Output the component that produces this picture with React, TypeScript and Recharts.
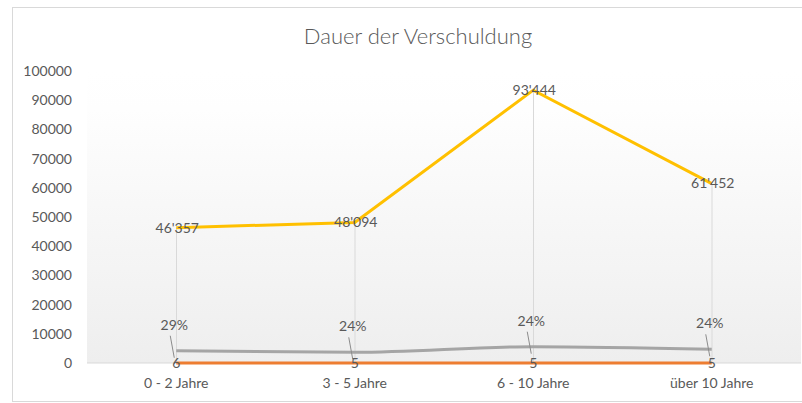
import { ComposedChart, Line, Bar, XAxis, YAxis, CartesianGrid } from 'recharts';

const categories = ['0 - 2 Jahre', '3 - 5 Jahre', '6 - 10 Jahre', 'über 10 Jahre'];
const betrag = [46357, 48094, 93444, 61452];
const anteilWert = [4200, 3660, 5580, 4690];
const anteilLabels = ['29%', '24%', '24%', '24%'];
const anzahl = [6, 5, 5, 5];
const yTicks = [0, 10000, 20000, 30000, 40000, 50000, 60000, 70000, 80000, 90000, 100000];

const data = categories.map((name, i) => ({
  name,
  betrag: betrag[i],
  anteil: anteilWert[i],
  anzahl: anzahl[i],
}));

const textColor = '#595959';
const font = 'Lato, "Open Sans", sans-serif';

const swiss = (v: number) => String(v).replace(/\B(?=(\d{3})+(?!\d))/g, "'");

const BetragLabel = (props: any) => {
  const { x, y, value } = props;
  return (
    <text x={x + 1} y={y} dy="0.35em" textAnchor="middle" fontSize={14} fill={textColor} fontFamily={font}>
      {swiss(value)}
    </text>
  );
};

const AnzahlLabel = (props: any) => {
  const { x, y, value } = props;
  return (
    <text x={x} y={y} dy="0.35em" textAnchor="middle" fontSize={14} fill={textColor} fontFamily={font}>
      {value}
    </text>
  );
};

const AnteilLabel = (props: any) => {
  const { x, y, index } = props;
  return (
    <g>
      <line x1={x - 6} y1={y - 15} x2={x - 2} y2={y + 7} stroke="#8c8c8c" strokeWidth={1} />
      <text x={x - 2} y={y - 26} dy="0.35em" textAnchor="middle" fontSize={14} fill={textColor} fontFamily={font}>
        {anteilLabels[index]}
      </text>
    </g>
  );
};

export default function App() {
  return (
    <div style={{ position: 'absolute', left: 0, top: 0, width: 802, height: 403, overflow: 'hidden', background: '#fff' }}>
      <div
        style={{
          position: 'absolute',
          left: 12,
          top: 7,
          width: 820,
          height: 393,
          border: '1px solid #d9d9d9',
        }}
      />
      <div
        style={{
          position: 'absolute',
          left: 0,
          width: 836,
          top: 22,
          textAlign: 'center',
          fontFamily: font,
          fontWeight: 300,
          fontSize: 22,
          color: textColor,
        }}
      >
        Dauer der Verschuldung
      </div>
      <div style={{ position: 'absolute', left: 0, top: 0 }}>
        <ComposedChart width={802} height={403} data={data} margin={{ top: 71, right: 1, bottom: 0, left: 0 }}>
          <defs>
            <linearGradient id="plotBg" x1="0" y1="0" x2="0" y2="1">
              <stop offset="0%" stopColor="#ffffff" />
              <stop offset="13%" stopColor="#fefefe" />
              <stop offset="100%" stopColor="#eeeeee" />
            </linearGradient>
          </defs>
          <CartesianGrid
            vertical={false}
            horizontalValues={[0]}
            stroke="#d9d9d9"
            fill="url(#plotBg)"
          />
          <XAxis
            dataKey="name"
            height={40}
            tickLine={false}
            axisLine={false}
            tick={{ fill: textColor, fontSize: 14, fontFamily: font }}
            tickMargin={9}
            interval={0}
          />
          <YAxis
            width={87}
            domain={[0, 100000]}
            ticks={yTicks}
            interval={0}
            axisLine={false}
            tickLine={false}
            tick={{ fill: textColor, fontSize: 14, fontFamily: font }}
            tickMargin={9}
          />
          <Bar dataKey="betrag" barSize={1} fill="#d9d9d9" isAnimationActive={false} />
          <Line
            type="monotone"
            dataKey="anteil"
            stroke="#A5A5A5"
            strokeWidth={3}
            dot={false}
            label={AnteilLabel}
            isAnimationActive={false}
          />
          <Line
            type="linear"
            dataKey="anzahl"
            stroke="#ED7D31"
            strokeWidth={3}
            dot={false}
            label={AnzahlLabel}
            isAnimationActive={false}
          />
          <Line
            type="linear"
            dataKey="betrag"
            stroke="#FFC000"
            strokeWidth={3}
            dot={false}
            label={BetragLabel}
            isAnimationActive={false}
          />
        </ComposedChart>
      </div>
    </div>
  );
}
